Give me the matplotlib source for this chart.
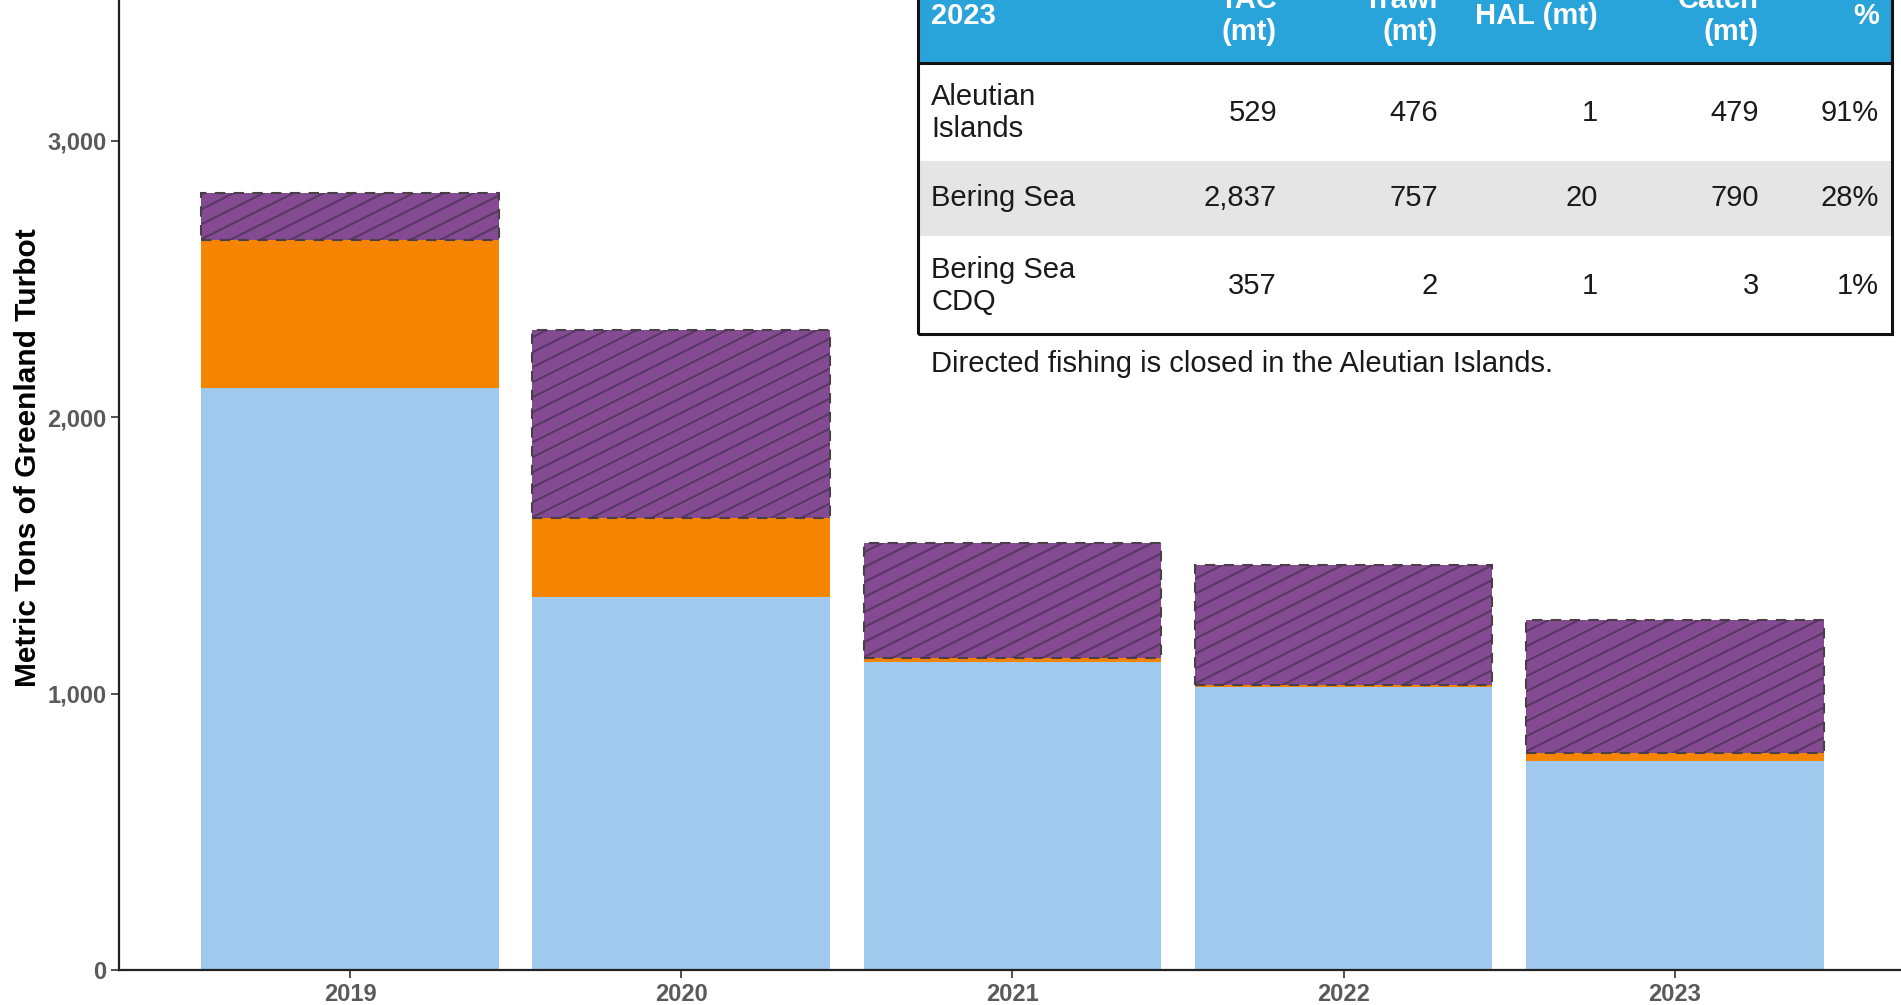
import matplotlib
matplotlib.use("Agg")
import matplotlib.pyplot as plt
from matplotlib.patches import Rectangle
from matplotlib.ticker import FuncFormatter

plt.rcParams["font.family"] = ["Liberation Sans", "DejaVu Sans"]

# chart data (metric tons)
years = ["2019", "2020", "2021", "2022", "2023"]
bs_trawl = [2104, 1350, 1115, 1022, 757]
bs_other = [536, 284, 12, 9, 29]
ai_catch = [171, 681, 418, 434, 480]

# table data
tbl_header = ["2023", "TAC\n(mt)", "Trawl\n(mt)", "HAL (mt)", "Catch\n(mt)", "%"]
tbl_areas = ["Aleutian\nIslands", "Bering Sea", "Bering Sea\nCDQ"]
tbl_tac = ["529", "2,837", "357"]
tbl_trawl = ["476", "757", "2"]
tbl_hal = ["1", "20", "1"]
tbl_catch = ["479", "790", "3"]
tbl_pct = ["91%", "28%", "1%"]
note = "Directed fishing is closed in the Aleutian Islands."

BLUE = "#A0C9EE"
ORANGE = "#F58500"
PURPLE = "#844B92"
HATCH = "#4E3457"
HEAD = "#29A4DB"

W, H = 1901, 1005
fig = plt.figure(figsize=(W / 100, H / 100), dpi=100)

# axes placed in pixels: left spine at x=119, x axis at y=970, top runs off the figure
ax_l, ax_b = 119, 970
ax = fig.add_axes([ax_l / W, 1 - ax_b / H, (W - ax_l) / W, ax_b / H])
ax.set_xlim(-0.699, 4.684)
ax.set_ylim(0, 3509)

x = list(range(len(years)))
bw = 0.9
ax.bar(x, bs_trawl, width=bw, color=BLUE, linewidth=0, zorder=2)
ax.bar(x, bs_other, width=bw, bottom=bs_trawl, color=ORANGE, linewidth=0, zorder=2)
bottoms = [a + b for a, b in zip(bs_trawl, bs_other)]
ai_bars = ax.bar(x, ai_catch, width=bw, bottom=bottoms, color=PURPLE,
                 edgecolor="#4a4048", linewidth=1.5, linestyle=(0, (5, 4)), zorder=2)

# shallow diagonal hatch, clipped to each purple bar
px_x = (W - ax_l) / (4.684 + 0.699)
px_y = ax_b / 3509
slope = 0.5 * px_x / px_y
step = 15 / px_y
for bar in ai_bars:
    x0 = bar.get_x()
    x1 = x0 + bar.get_width()
    y0 = bar.get_y()
    y1 = y0 + bar.get_height()
    c = y0 - slope * (x1 - x0)
    while c < y1:
        ln, = ax.plot([x0, x1], [c, c + slope * (x1 - x0)], color=HATCH,
                      lw=1.5, alpha=0.8, zorder=3, solid_capstyle="butt")
        ln.set_clip_path(bar)
        c += step

ax.set_xticks(x)
ax.set_xticklabels(years)
ax.set_yticks([0, 1000, 2000, 3000])
ax.yaxis.set_major_formatter(FuncFormatter(lambda v, p: f"{int(v):,}"))
ax.tick_params(axis="both", length=6, width=1.2, color="#333333",
               labelcolor="#5a5a5a", labelsize=17)
ax.tick_params(axis="x", pad=3)
ax.tick_params(axis="y", pad=3)
for lab in ax.get_xticklabels() + ax.get_yticklabels():
    lab.set_fontweight("bold")
for s in ["top", "right"]:
    ax.spines[s].set_visible(False)
for s in ["left", "bottom"]:
    ax.spines[s].set_linewidth(1.6)
    ax.spines[s].set_color("#222222")

ax.set_ylabel("Metric Tons of Greenland Turbot", fontsize=21.5, fontweight="bold")
ax.yaxis.set_label_coords(-0.043, 0.528)


# table drawn in figure pixel coordinates
def fx(v):
    return v / W


def fy(v):
    return 1 - v / H


t_left, t_right = 918, 1892
head_bot = 63
row_lines = [63, 161, 236, 334]
row_fill = ["white", "#E5E5E5", "white"]

fig.patches.append(Rectangle((fx(t_left), fy(head_bot)), fx(t_right - t_left), (head_bot + 30) / H,
                             transform=fig.transFigure, facecolor=HEAD, edgecolor="none", zorder=1))
for i in range(3):
    top, bot = row_lines[i], row_lines[i + 1]
    fig.patches.append(Rectangle((fx(t_left), fy(bot)), fx(t_right - t_left), (bot - top) / H,
                                 transform=fig.transFigure, facecolor=row_fill[i],
                                 edgecolor="none", zorder=1))
# outer border
fig.patches.append(Rectangle((fx(t_left), fy(row_lines[-1])), fx(t_right - t_left),
                             (row_lines[-1] + 30) / H, transform=fig.transFigure,
                             facecolor="none", edgecolor="#111111", linewidth=2.2, zorder=2))
fig.lines.append(plt.Line2D([fx(t_left), fx(t_right)], [fy(head_bot), fy(head_bot)],
                            transform=fig.transFigure, color="#111111", lw=2.2))

col_x = [931, 1277, 1438, 1598, 1759, 1879]
fs = 21
for j, h in enumerate(tbl_header):
    fig.text(fx(col_x[j]), fy(16), h, ha="left" if j == 0 else "right", va="center",
             color="white", fontsize=fs, fontweight="bold", linespacing=1.2)

row_y = [113, 198, 286]
cols = [tbl_tac, tbl_trawl, tbl_hal, tbl_catch, tbl_pct]
for i, area in enumerate(tbl_areas):
    fig.text(fx(col_x[0]), fy(row_y[i]), area, ha="left", va="center",
             fontsize=fs, color="#1a1a1a", linespacing=1.2)
    for j, col in enumerate(cols):
        fig.text(fx(col_x[j + 1]), fy(row_y[i]), col[i], ha="right", va="center",
                 fontsize=fs, color="#1a1a1a")

fig.text(fx(931), fy(364), note, ha="left", va="center", fontsize=21, color="#1a1a1a")

fig.savefig("out.png", dpi=100)
